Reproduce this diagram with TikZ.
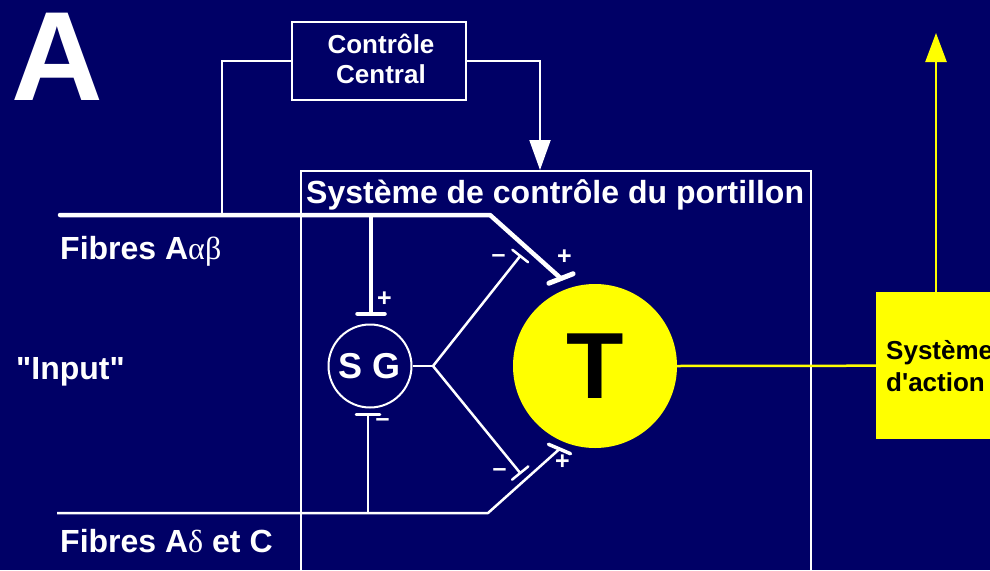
\documentclass[tikz,border=0pt]{standalone}
\usepackage{fontspec}
\setmainfont{Liberation Sans}
\newfontfamily\plainsf{Liberation Sans}
\newfontfamily\grk{Liberation Serif}
\usetikzlibrary{arrows.meta,calc}
\definecolor{navy}{RGB}{0,0,102}
\definecolor{yel}{RGB}{255,255,0}
\tikzset{
  wire/.style={draw=white, line width=2pt},
  thickwire/.style={draw=white, line width=4.5pt},
  thinwire/.style={draw=white, line width=2.5pt},
  box/.style={draw=white, line width=2pt},
  lbl/.style={text=white, font=\bfseries\fontsize{32}{32}\selectfont, inner sep=0pt, anchor=base west},
  sign/.style={text=white, font=\bfseries\fontsize{25}{25}\selectfont, inner sep=0pt},
  ywire/.style={draw=yel, line width=2.5pt},
}
\begin{document}
\begin{tikzpicture}[x=1pt,y=-1pt]
\useasboundingbox (0,0) rectangle (990,570);
\clip (0,0) rectangle (990,570);
\fill[navy] (0,0) rectangle (990,570);

% big letter
\node[text=white, font=\bfseries\fontsize{127}{127}\selectfont, inner sep=0pt] (A) at (57,57) {A};

% central control
\node[box, minimum width=174pt, minimum height=78pt, inner sep=0pt] (cc) at (379,61) {};
\node[text=white, font=\bfseries\fontsize{26}{30}\selectfont, align=center, inner sep=0pt] (cctxt) at (381,58.5) {Contrôle\\Central};

% gate system box
\node[box, minimum width=510pt, minimum height=430pt, anchor=north west, inner sep=0pt] (gate) at (300,170) {};
\node[text=white, font=\bfseries\fontsize{32}{32}\selectfont, inner sep=0pt, anchor=base west] (title) at (306,203) {Système de contrôle du portillon};

% labels
\node[lbl] (fab) at (60,259) {Fibres A{\mdseries\grk αβ}};
\node[lbl] (inp) at (16,379) {\plainsf "Input"};
\node[lbl] (fdc) at (60,552) {Fibres A{\mdseries\grk δ} et C};

% coordinates
\coordinate (fa0) at (60,215);
\coordinate (fa1) at (490,215);
\coordinate (j1) at (222,215);
\coordinate (j2) at (371,215);
\coordinate (sgtop) at (371,316);
\coordinate (fc0) at (57,513);
\coordinate (fc1) at (488,513);
\coordinate (j3) at (368,513);
\coordinate (sgbot) at (368,413);
\coordinate (fork) at (433,366);
\coordinate (m1) at (521,255);
\coordinate (m2) at (521,474);
\coordinate (s1) at (561,278.5);
\coordinate (s2) at (559.5,449);
\coordinate (gin) at (540,170);
\coordinate (up) at (936,33);

% central control connectors
\draw[wire] (cc.west) -- (cc.west -| j1) -- (j1);
\draw[wire, -{Triangle[length=30pt,width=21pt]}] (cc.east) -- (cc.east -| gin) -- (gin);

% cells
\node[circle, draw=white, line width=2pt, minimum size=83pt, inner sep=0pt, text=white,
      font=\bfseries\fontsize{36}{36}\selectfont] (sg) at (370,366) {S G};
\node[circle, fill=yel, minimum size=164pt, inner sep=0pt,
      font=\bfseries\fontsize{94}{94}\selectfont] (T) at (595,366) {T};

% A alpha-beta fibres
\draw[thickwire, line cap=round, line join=round] (fa0) -- (fa1) -- (s1);
\draw[draw=white, line width=5pt, line cap=round] ($(s1)!13pt!90:(T.center)$) -- ($(s1)!13pt!-90:(T.center)$);
\draw[thickwire, -{Bar[width=27pt,round]}] (j2) -- (sgtop);

% A delta / C fibres
\draw[thinwire, line join=round] (fc0) -- (fc1) -- (s2);
\draw[draw=white, line width=3.5pt, line cap=round] ($(s2)!12pt!90:(T.center)$) -- ($(s2)!12pt!-90:(T.center)$);
\draw[thinwire, -{Bar[width=24pt,round]}] (j3) -- (sgbot);

% SG outputs
\draw[thinwire] (sg.east) -- (fork);
\draw[thinwire, -{Bar[width=20pt,round]}] (fork) -- (m1);
\draw[thinwire, -{Bar[width=21pt,round]}] (fork) -- (m2);

% signs
\node[sign] (p1) at (564.5,257.5) {+};
\node[sign] (p2) at (384.5,299) {+};
\node[sign] (p3) at (562.5,462) {+};
\node[sign] (n1) at (498.5,259) {–};
\node[sign] (n2) at (499.5,473) {–};
\node[sign] (n3) at (382.5,423) {–};

% action system
\node[fill=yel, minimum width=160pt, minimum height=147pt, anchor=north west, inner sep=0pt] (act) at (876,292) {};
\node[font=\plainsf\bfseries\fontsize{26}{32}\selectfont, align=left, anchor=west, inner sep=0pt] (acttxt) at (886,366) {Système\\d'action};
\draw[ywire] (T.east) -- (act.west);
\draw[ywire, -{Triangle[length=29pt,width=21pt]}] (act.north -| up) -- (up);
\end{tikzpicture}
\end{document}
